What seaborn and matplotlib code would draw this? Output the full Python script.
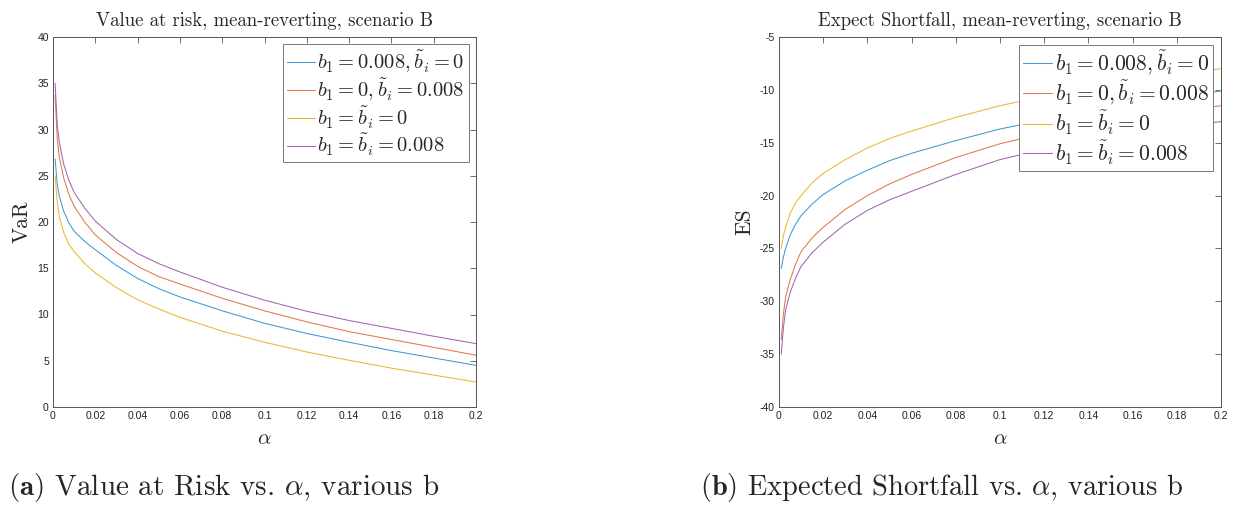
import numpy as np
import pandas as pd
import matplotlib
matplotlib.use("Agg")
import matplotlib.pyplot as plt
import seaborn as sns

# ---------------- data ----------------
alpha = [0.001, 0.002, 0.003, 0.005, 0.0075, 0.01, 0.015, 0.02, 0.03, 0.04,
         0.05, 0.06, 0.08, 0.1, 0.12, 0.14, 0.16, 0.18, 0.2]

series_labels = [r"$b_1=0.008,\tilde{b}_i=0$",
                 r"$b_1=0,\tilde{b}_i=0.008$",
                 r"$b_1=\tilde{b}_i=0$",
                 r"$b_1=\tilde{b}_i=0.008$"]

var_s1 = [26.8, 24.1, 22.8, 21.2, 19.9, 19.0, 17.9, 17.0, 15.3, 13.9,
          12.8, 11.9, 10.4, 9.05, 7.95, 7.0, 6.1, 5.3, 4.5]
var_s2 = [33.7, 29.0, 27.0, 24.8, 23.0, 21.7, 20.0, 18.6, 16.7, 15.2,
          14.1, 13.3, 11.75, 10.4, 9.2, 8.15, 7.3, 6.45, 5.6]
var_s3 = [25.0, 22.2, 20.6, 18.9, 17.6, 16.8, 15.5, 14.5, 12.9, 11.6,
          10.6, 9.7, 8.2, 7.0, 5.95, 5.05, 4.2, 3.45, 2.7]
var_s4 = [35.0, 30.5, 28.6, 26.3, 24.5, 23.2, 21.5, 20.1, 18.1, 16.6,
          15.5, 14.6, 12.95, 11.55, 10.35, 9.35, 8.5, 7.65, 6.85]

es_s1 = [-26.9, -25.8, -25.0, -23.75, -22.7, -21.9, -20.8, -19.9, -18.6, -17.6,
         -16.7, -16.0, -14.8, -13.7, -12.85, -12.1, -11.4, -10.75, -10.1]
es_s2 = [-33.6, -31.2, -29.6, -28.0, -26.5, -25.3, -24.0, -23.0, -21.3, -20.0,
         -18.9, -18.0, -16.4, -15.1, -14.1, -13.3, -12.6, -12.0, -11.5]
es_s3 = [-25.0, -23.8, -23.0, -21.7, -20.7, -20.0, -18.8, -17.9, -16.6, -15.5,
         -14.6, -13.9, -12.6, -11.5, -10.6, -9.8, -9.1, -8.55, -8.0]
es_s4 = [-35.0, -32.5, -30.8, -29.2, -27.8, -26.7, -25.4, -24.4, -22.7, -21.4,
         -20.4, -19.6, -18.0, -16.6, -15.6, -14.7, -14.0, -13.5, -13.0]

xticks = [0, 0.02, 0.04, 0.06, 0.08, 0.1, 0.12, 0.14, 0.16, 0.18, 0.2]
xticklabels = ["0", "0.02", "0.04", "0.06", "0.08", "0.1", "0.12", "0.14", "0.16", "0.18", "0.2"]
var_yticks = [0, 5, 10, 15, 20, 25, 30, 35, 40]
es_yticks = [-40, -35, -30, -25, -20, -15, -10, -5]

colors = ["#3D9AD6", "#E0784A", "#EDB631", "#A264B2"]

titles = ["Value at risk, mean-reverting, scenario B",
          "Expect Shortfall, mean-reverting, scenario B"]
ylabels = ["VaR", "ES"]
captions = [r"$\mathbf{(a)}$ Value at Risk vs. $\alpha$, various b",
            r"$\mathbf{(b)}$ Expected Shortfall vs. $\alpha$, various b"]

# ---------------- style ----------------
sns.set_style("white")
plt.rcParams["mathtext.fontset"] = "cm"
plt.rcParams["font.family"] = ["Liberation Sans", "DejaVu Sans"]
plt.rcParams["axes.unicode_minus"] = False

def long_df(values_list):
    rows = []
    for lab, vals in zip(series_labels, values_list):
        for a, v in zip(alpha, vals):
            rows.append({"alpha": a, "value": v, "series": lab})
    return pd.DataFrame(rows)

df_var = long_df([var_s1, var_s2, var_s3, var_s4])
df_es = long_df([es_s1, es_s2, es_s3, es_s4])

W, H = 1238, 507
fig = plt.figure(figsize=(W / 100, H / 100), dpi=100)
ax_l = fig.add_axes([53 / W, (H - 407) / H, 423 / W, 370 / H])
ax_r = fig.add_axes([779 / W, (H - 407) / H, 442 / W, 370 / H])

palette = dict(zip(series_labels, colors))
spine_col = "#555555"

panels = [(ax_l, df_var, var_yticks, titles[0], ylabels[0], 14.8),
          (ax_r, df_es, es_yticks, titles[1], ylabels[1], 15.5)]

for ax, df, yt, ttl, yl, legfs in panels:
    sns.lineplot(data=df, x="alpha", y="value", hue="series", hue_order=series_labels,
                 palette=palette, estimator=None, linewidth=0.75, ax=ax)
    ax.set_xlim(0, 0.2)
    ax.set_ylim(yt[0], yt[-1])
    ax.set_xticks(xticks)
    ax.set_xticklabels(xticklabels)
    ax.set_yticks(yt)
    ax.set_yticklabels([str(v) for v in yt])
    ax.tick_params(direction="in", length=4, width=0.6, colors=spine_col,
                   labelcolor="#222222", labelsize=7.5, top=True, right=True,
                   pad=3)
    for s in ax.spines.values():
        s.set_color(spine_col)
        s.set_linewidth(0.7)
        s.set_visible(True)
    ax.set_title(ttl, fontfamily="cmr10", fontsize=13.5, pad=8)
    ax.set_xlabel(r"$\alpha$", fontsize=15, labelpad=6)
    ax.set_ylabel(yl, fontfamily="cmr10", fontsize=15.5, labelpad=4)
    h, l = ax.get_legend_handles_labels()
    leg = ax.legend(h, l, loc="upper right", fontsize=legfs, frameon=True,
                    fancybox=False, framealpha=1, edgecolor="#777777",
                    borderaxespad=0.35, handlelength=1.35, handletextpad=0.12,
                    labelspacing=0.08, borderpad=0.2)
    leg.get_frame().set_linewidth(0.7)
    for line in leg.get_lines():
        line.set_linewidth(0.75)

fig.text(8 / W, 1 - 495 / H, captions[0], fontfamily="cmr10", fontsize=21)
fig.text(700 / W, 1 - 495 / H, captions[1], fontfamily="cmr10", fontsize=20.5)

fig.savefig("out.png", dpi=100, facecolor="white")
